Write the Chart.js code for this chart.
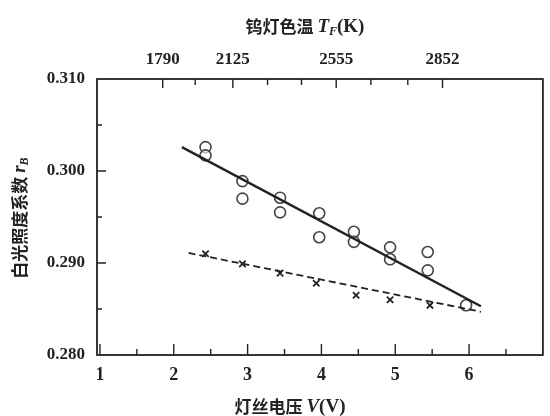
<!DOCTYPE html>
<html>
<head>
<meta charset="utf-8">
<script src="https://cdn.jsdelivr.net/npm/chart.js@4.4.1/dist/chart.umd.min.js"></script>
<style>
  html, body { margin: 0; padding: 0; background: #fff; }
  #wrap { width: 550px; height: 416px; }
</style>
</head>
<body>
<div id="wrap"><canvas id="chart"></canvas></div>
<script>
// measured points (circles) - white light coefficient vs lamp voltage
const voltsCircle = [2.43, 2.43, 2.93, 2.93, 3.44, 3.44, 3.97, 3.97, 4.44, 4.44, 4.93, 4.93, 5.44, 5.44, 5.96];
const rCircle = [0.3026, 0.3017, 0.2989, 0.2970, 0.2971, 0.2955, 0.2954, 0.2928, 0.2934, 0.2923, 0.2917, 0.2904, 0.2912, 0.2892, 0.2854];

// crosses
const voltsCross = [2.43, 2.93, 3.44, 3.93, 4.47, 4.93, 5.47];
const rCross = [0.2910, 0.2899, 0.2889, 0.2878, 0.2865, 0.2860, 0.2854];

// fitted lines (end points)
const solidFitV = [2.11, 6.16];
const solidFitR = [0.3026, 0.2853];
const dashFitV = [2.2, 6.16];
const dashFitR = [0.2911, 0.2847];

// axes
const xTicks = [1, 2, 3, 4, 5, 6];
const xMinor = [1.5, 2.5, 3.5, 4.5, 5.5, 6.5];
const yTicks = [0.28, 0.29, 0.30, 0.31];
const yMinor = [0.285, 0.295, 0.305];
const tempLabels = ["1790", "2125", "2555", "2852"];
const tempPos = [1.85, 2.8, 4.2, 5.64];
const tempMinor = [2.29, 3.27, 3.73, 4.67, 5.17];

const ink = "#222";
const numFont = { family: "Liberation Serif", size: 18, weight: "bold" };

function toXY(xs, ys) {
  return xs.map((v, i) => ({ x: v, y: ys[i] }));
}

// inward ticks, frame and axis titles
const decorPlugin = {
  id: "decor",
  afterDraw(chart) {
    const ctx = chart.ctx;
    const a = chart.chartArea;
    const x = chart.scales.x, y = chart.scales.y;
    ctx.save();
    ctx.strokeStyle = ink;
    ctx.lineWidth = 1.8;
    ctx.strokeRect(a.left, a.top, a.right - a.left, a.bottom - a.top);

    ctx.lineWidth = 1.4;
    ctx.beginPath();
    xTicks.forEach(v => { const p = x.getPixelForValue(v); ctx.moveTo(p, a.bottom); ctx.lineTo(p, a.bottom - 11); });
    xMinor.forEach(v => { const p = x.getPixelForValue(v); ctx.moveTo(p, a.bottom); ctx.lineTo(p, a.bottom - 6); });
    yTicks.slice(1, 3).forEach(v => { const p = y.getPixelForValue(v); ctx.moveTo(a.left, p); ctx.lineTo(a.left + 9, p); });
    yMinor.forEach(v => { const p = y.getPixelForValue(v); ctx.moveTo(a.left, p); ctx.lineTo(a.left + 5, p); });
    tempPos.forEach(v => { const p = x.getPixelForValue(v); ctx.moveTo(p, a.top); ctx.lineTo(p, a.top + 9); });
    tempMinor.forEach(v => { const p = x.getPixelForValue(v); ctx.moveTo(p, a.top); ctx.lineTo(p, a.top + 6); });
    ctx.stroke();

    ctx.fillStyle = ink;
    ctx.textBaseline = "middle";
    const cjk = "bold 17px 'Noto Sans CJK SC'";
    const it = "italic bold 19px 'Liberation Serif'";
    const rm = "bold 19px 'Liberation Serif'";
    const sub = "italic bold 12px 'Liberation Serif'";

    function drawParts(parts, cx, cy) {
      let w = 0;
      parts.forEach(p => { ctx.font = p[1]; p.w = ctx.measureText(p[0]).width; w += p.w; });
      let px = cx - w / 2;
      ctx.textAlign = "left";
      parts.forEach(p => { ctx.font = p[1]; ctx.fillText(p[0], px, cy + (p[2] || 0)); px += p.w; });
    }

    drawParts([["钨灯色温 ", cjk], ["T", it], ["F", sub, 5], ["(K)", rm]], 305, 27);
    drawParts([["灯丝电压 ", cjk], ["V", it], ["(V)", rm]], 290, 407);

    ctx.translate(20, 218);
    ctx.rotate(-Math.PI / 2);
    drawParts([["白光照度系数 ", cjk], ["r", it], ["B", sub, 5]], 0, 0);
    ctx.restore();
  }
};

new Chart(document.getElementById("chart"), {
  type: "scatter",
  data: {
    datasets: [
      {
        label: "fit",
        data: toXY(solidFitV, solidFitR),
        showLine: true,
        borderColor: ink,
        borderWidth: 2.4,
        pointRadius: 0
      },
      {
        label: "fit2",
        data: toXY(dashFitV, dashFitR),
        showLine: true,
        borderColor: ink,
        borderWidth: 1.8,
        borderDash: [7, 4],
        pointRadius: 0
      },
      {
        label: "circles",
        data: toXY(voltsCircle, rCircle),
        pointStyle: "circle",
        pointRadius: 5.5,
        pointBorderWidth: 1.6,
        borderColor: "#444",
        backgroundColor: "rgba(255,255,255,0.6)"
      },
      {
        label: "crosses",
        data: toXY(voltsCross, rCross),
        pointStyle: "crossRot",
        pointRadius: 4.5,
        pointBorderWidth: 1.8,
        borderColor: ink,
        backgroundColor: ink
      }
    ]
  },
  options: {
    responsive: true,
    maintainAspectRatio: false,
    animation: false,
    layout: { padding: { left: 0, right: 3, top: 0, bottom: 0 } },
    plugins: { legend: { display: false }, tooltip: { enabled: false } },
    scales: {
      x: {
        type: "linear",
        position: "bottom",
        min: 0.96,
        max: 7,
        grid: { display: false },
        border: { display: false },
        afterBuildTicks: s => { s.ticks = xTicks.map(v => ({ value: v })); },
        afterFit: s => { s.height = 61; },
        ticks: { autoSkip: false, color: ink, font: numFont, padding: 2, maxRotation: 0 }
      },
      x2: {
        type: "linear",
        position: "top",
        min: 0.96,
        max: 7,
        grid: { display: false },
        border: { display: false },
        afterBuildTicks: s => { s.ticks = tempPos.map(v => ({ value: v })); },
        afterFit: s => { s.height = 79; },
        ticks: {
          autoSkip: false, color: ink, padding: 1, maxRotation: 0,
          font: { family: "Liberation Serif", size: 17, weight: "bold" },
          callback: (v, i) => tempLabels[i]
        }
      },
      y: {
        type: "linear",
        min: 0.28,
        max: 0.31,
        grid: { display: false },
        border: { display: false },
        afterBuildTicks: s => { s.ticks = yTicks.map(v => ({ value: v })); },
        afterFit: s => { s.width = 97; },
        ticks: { autoSkip: false, color: ink, font: { family: "Liberation Serif", size: 17, weight: "bold" }, padding: 4, callback: v => v.toFixed(3) }
      }
    }
  },
  plugins: [decorPlugin]
});
</script>
</body>
</html>
